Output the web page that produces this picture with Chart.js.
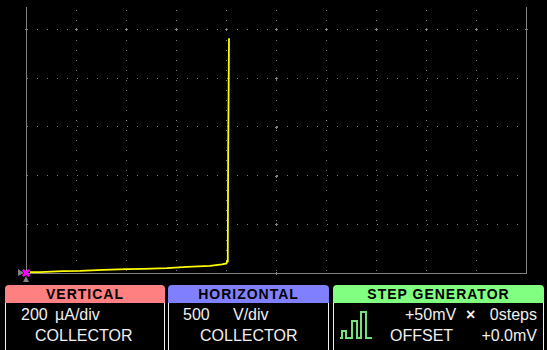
<!DOCTYPE html>
<html>
<head>
<meta charset="utf-8">
<script src="https://cdn.jsdelivr.net/npm/chart.js@4"></script>
<style>
  html, body { margin: 0; padding: 0; background: #000; }
  body { width: 547px; height: 350px; overflow: hidden; position: relative;
         font-family: "Liberation Sans", Arial, sans-serif; }
  #scope { position: absolute; left: 0; top: 0; }
  .panel { position: absolute; top: 285px; height: 90px; }
  .head { height: 18px; line-height: 18px; border-radius: 4px 4px 0 0; text-align: center;
          color: #000; font-weight: bold; font-size: 14px; letter-spacing: 1px; }
  .body { position: absolute; top: 18px; left: 0; right: 0; bottom: 0;
          border: 1px solid #f0f0f0; border-top: none; }
  .t { position: absolute; color: #f0f0f0; font-size: 16px; line-height: 21px; white-space: pre; }
</style>
</head>
<body>
<canvas id="scope" width="547" height="285"></canvas>

<div class="panel" style="left:5px; width:160px;">
  <div class="head" style="background:#ff8080;">VERTICAL</div>
  <div class="body"></div>
</div>
<div class="panel" style="left:168px; width:161px;">
  <div class="head" style="background:#8080ff;">HORIZONTAL</div>
  <div class="body"></div>
</div>
<div class="panel" style="left:333px; width:211px;">
  <div class="head" style="background:#80ff80;">STEP GENERATOR</div>
  <div class="body"></div>
</div>

<span class="t" style="left:21px; top:304px;">200</span>
<span class="t" style="left:55px; top:304px;">µA/div</span>
<span class="t" style="left:35px; top:325px;">COLLECTOR</span>
<span class="t" style="left:183px; top:304px;">500</span>
<span class="t" style="left:233px; top:304px;">V/div</span>
<span class="t" style="left:200px; top:325px;">COLLECTOR</span>
<span class="t" style="left:405px; top:304px;">+50mV</span>
<span class="t" style="left:466px; top:304px; font-weight:bold;">×</span>
<span class="t" style="right:10px; top:304px;">0steps</span>
<span class="t" style="left:390px; top:325px;">OFFSET</span>
<span class="t" style="right:10px; top:325px;">+0.0mV</span>

<svg style="position:absolute; left:0; top:0;" width="547" height="350">
  <path d="M340,338 H342 V331 H346 V338 H352 V321 H357 V338 H361 V312 H366 V338 H372"
        fill="none" stroke="#78e078" stroke-width="2"/>
</svg>

<script>
// collector sweep (V, µA)
const collectorVolts = [40, 140, 370, 540, 770, 1010, 1170, 1410, 1610, 1840, 1960, 2005, 2010, 2018, 2022, 2030];
const collectorMicroAmps = [3, 4, 8, 9, 13, 16, 17, 20, 25, 29, 35, 39, 48, 92, 500, 964];

// display settings: 500 V/div, 200 µA/div
const voltsPerDiv = 500;
const ampsPerDiv = 200;
const xDivs = 10;
const yCentre = 1000;   // centre graticule row (5 div)
const yTop = 1092;      // top of visible screen
const cursor = [{ x: 0, y: 0 }];

const gridGray = '#808080';

// centre-axis crosses and cursor flags
const graticule = {
  id: 'graticule',
  beforeDatasetsDraw(chart) {
    const { ctx, scales: { x, y } } = chart;
    ctx.save();
    ctx.fillStyle = gridGray;
    const cx = Math.round(x.getPixelForValue(xDivs * voltsPerDiv / 2));
    const cy = Math.round(y.getPixelForValue(yCentre));
    x.ticks.forEach(t => {
      const px = Math.round(x.getPixelForValue(t.value));
      ctx.fillRect(px - 1, cy, 3, 1);
      ctx.fillRect(px, cy - 1, 1, 3);
    });
    y.ticks.forEach(t => {
      const py = Math.round(y.getPixelForValue(t.value));
      ctx.fillRect(cx - 1, py, 3, 1);
      ctx.fillRect(cx, py - 1, 1, 3);
    });
    // little gray flags at the cursor
    const ox = x.getPixelForValue(cursor[0].x);
    const oy = y.getPixelForValue(cursor[0].y);
    ctx.beginPath();
    ctx.moveTo(ox - 8, oy - 4);
    ctx.lineTo(ox - 8, oy + 3);
    ctx.lineTo(ox - 2, oy);
    ctx.closePath();
    ctx.fill();
    ctx.beginPath();
    ctx.moveTo(ox - 3, oy + 9);
    ctx.lineTo(ox + 3, oy + 9);
    ctx.lineTo(ox, oy + 3);
    ctx.closePath();
    ctx.fill();
    ctx.restore();
  }
};

const zeroHeight = s => { s.height = 0; };
const zeroWidth = s => { s.width = 0; };

new Chart(document.getElementById('scope'), {
  type: 'scatter',
  data: {
    datasets: [{
      data: cursor,
      pointStyle: 'crossRot',
      pointRadius: 4.5,
      borderColor: '#ff00ff',
      borderWidth: 2.5,
      clip: false
    }, {
      data: collectorVolts.map((v, i) => ({ x: v, y: collectorMicroAmps[i] })),
      showLine: true,
      borderColor: '#ffff00',
      borderWidth: 1.8,
      pointRadius: 0,
      tension: 0
    }]
  },
  options: {
    responsive: false,
    animation: false,
    layout: { padding: { left: 26, right: 21, top: 0, bottom: 12 } },
    plugins: { legend: { display: false }, tooltip: { enabled: false } },
    scales: {
      x: {
        type: 'linear', min: 0, max: xDivs * voltsPerDiv,
        ticks: { display: false, stepSize: voltsPerDiv },
        grid: { color: gridGray, lineWidth: 1, drawTicks: false },
        border: { display: true, color: gridGray, width: 1, dash: [1, 9], dashOffset: 7 },
        afterFit: zeroHeight
      },
      y: {
        type: 'linear', min: 0, max: yTop,
        ticks: { display: false, stepSize: ampsPerDiv, includeBounds: false },
        grid: { color: gridGray, lineWidth: 1, drawTicks: false },
        border: { display: true, color: gridGray, width: 1, dash: [1, 9], dashOffset: 0 },
        afterFit: zeroWidth
      },
      y2: {
        type: 'linear', position: 'right', display: true,
        ticks: { display: false },
        grid: { display: false, drawTicks: false },
        border: { display: true, color: gridGray, width: 1 },
        afterFit: zeroWidth
      }
    }
  },
  plugins: [graticule]
});
</script>
</body>
</html>
